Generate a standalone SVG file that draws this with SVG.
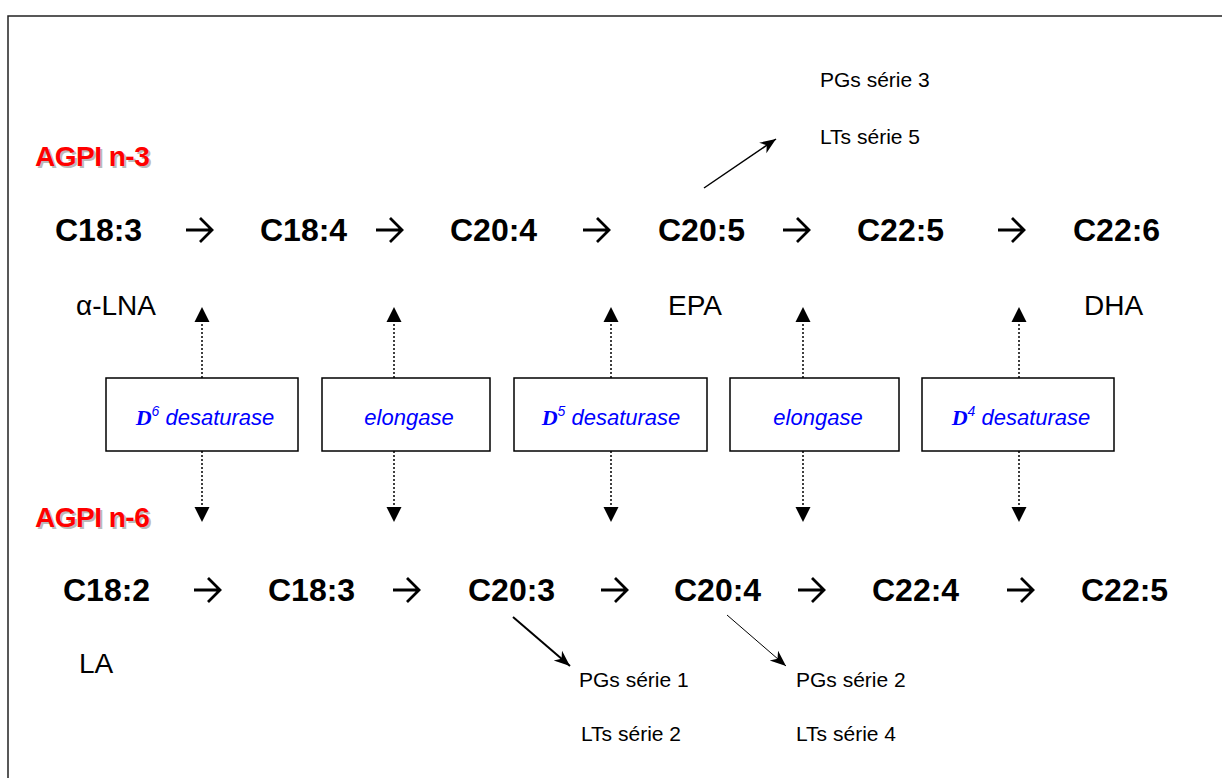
<svg xmlns="http://www.w3.org/2000/svg" width="1222" height="778" viewBox="0 0 1222 778">
<style>
.fa{font-family:"Liberation Sans",Arial,sans-serif;font-weight:bold;font-size:32px;fill:#000}
.lb{font-family:"Liberation Sans",Arial,sans-serif;font-size:28px;fill:#000}
.sm{font-family:"Liberation Sans",Arial,sans-serif;font-size:21px;fill:#000}
.hd{font-family:"Liberation Sans",Arial,sans-serif;font-weight:bold;font-size:28px;letter-spacing:-0.5px}
.box{fill:#fff;stroke:#000;stroke-width:1.5}
.en{font-family:"Liberation Sans",Arial,sans-serif;font-style:italic;font-size:22px;fill:#0000ff;text-anchor:middle}
.dl{font-family:"Liberation Serif","Times New Roman",serif;font-style:italic;font-weight:bold}
.sup{font-family:"Liberation Sans",Arial,sans-serif;font-size:14px}
.dot{stroke:#000;stroke-width:1.5;stroke-dasharray:2 2;fill:none}
.ln{stroke:#000;fill:none}
.rx{stroke:#000;stroke-width:2.8;fill:none;stroke-linejoin:miter}
</style>
<defs>
<marker id="head" viewBox="0 0 10 10" refX="10" refY="5" markerWidth="16" markerHeight="16" markerUnits="userSpaceOnUse" orient="auto">
<path d="M0,1 L10,5 L0,9 L3,5 z" fill="#000"/>
</marker>
<path id="rarrow" class="rx" d="M0,0 H26 M14,-12 L26,0 L14,12"/>
<path id="upar" d="M-7.5,15 L0,0 L7.5,15 z" fill="#000"/>
<path id="dnar" d="M-7.5,0 L0,15 L7.5,0 z" fill="#000"/>
</defs>
<rect x="0" y="0" width="1222" height="778" fill="#fff"/>
<rect x="8" y="16" width="1240" height="800" fill="none" stroke="#222" stroke-width="1.5"/>

<g id="heading-n3">
<text class="hd" x="37" y="168" fill="#bbb">AGPI n-3</text>
<text class="hd" x="35" y="166" fill="#ff0000">AGPI n-3</text>
</g>
<g id="heading-n6">
<text class="hd" x="37" y="529" fill="#bbb">AGPI n-6</text>
<text class="hd" x="35" y="527" fill="#ff0000">AGPI n-6</text>
</g>

<g id="row-n3">
<g id="n3-c183"><text class="fa" x="55" y="241">C18:3</text><text class="lb" x="76" y="315" font-size="30">α-LNA</text></g>
<g id="n3-c184"><text class="fa" x="260" y="241">C18:4</text></g>
<g id="n3-c204"><text class="fa" x="450" y="241">C20:4</text></g>
<g id="n3-c205"><text class="fa" x="658" y="241">C20:5</text><text class="lb" x="668" y="315">EPA</text></g>
<g id="n3-c225"><text class="fa" x="857" y="241">C22:5</text></g>
<g id="n3-c226"><text class="fa" x="1073" y="241">C22:6</text><text class="lb" x="1084" y="315">DHA</text></g>
<use href="#rarrow" x="186" y="230"/>
<use href="#rarrow" x="376" y="230"/>
<use href="#rarrow" x="583" y="230"/>
<use href="#rarrow" x="783" y="230"/>
<use href="#rarrow" x="998" y="230"/>
</g>

<g id="n3-products">
<text class="sm" x="820" y="87">PGs série 3</text>
<text class="sm" x="820" y="144">LTs série 5</text>
</g>

<g id="row-n6">
<g id="n6-c182"><text class="fa" x="63" y="601">C18:2</text><text class="lb" x="79" y="673">LA</text></g>
<g id="n6-c183"><text class="fa" x="268" y="601">C18:3</text></g>
<g id="n6-c203"><text class="fa" x="468" y="601">C20:3</text></g>
<g id="n6-c204"><text class="fa" x="674" y="601">C20:4</text></g>
<g id="n6-c224"><text class="fa" x="872" y="601">C22:4</text></g>
<g id="n6-c225"><text class="fa" x="1081" y="601">C22:5</text></g>
<use href="#rarrow" x="194" y="590"/>
<use href="#rarrow" x="393" y="590"/>
<use href="#rarrow" x="601" y="590"/>
<use href="#rarrow" x="798" y="590"/>
<use href="#rarrow" x="1007" y="590"/>
</g>

<g id="n6-products">
<text class="sm" x="579" y="687">PGs série 1</text>
<text class="sm" x="581" y="741">LTs série 2</text>
<text class="sm" x="796" y="687">PGs série 2</text>
<text class="sm" x="796" y="741">LTs série 4</text>
</g>

<g id="enzyme-d6"><rect class="box" x="106" y="378" width="192" height="73"/><text class="en" x="205" y="425"><tspan class="dl">D</tspan><tspan class="sup" dy="-9">6</tspan><tspan dy="9"> desaturase</tspan></text></g>
<g id="enzyme-elong1"><rect class="box" x="322" y="378" width="168" height="73"/><text class="en" x="409" y="425">elongase</text></g>
<g id="enzyme-d5"><rect class="box" x="514" y="378" width="193" height="73"/><text class="en" x="611" y="425"><tspan class="dl">D</tspan><tspan class="sup" dy="-9">5</tspan><tspan dy="9"> desaturase</tspan></text></g>
<g id="enzyme-elong2"><rect class="box" x="730" y="378" width="169" height="73"/><text class="en" x="818" y="425">elongase</text></g>
<g id="enzyme-d4"><rect class="box" x="922" y="378" width="192" height="73"/><text class="en" x="1021" y="425"><tspan class="dl">D</tspan><tspan class="sup" dy="-9">4</tspan><tspan dy="9"> desaturase</tspan></text></g>

<g id="connectors">
<path class="dot" d="M202,378 V322"/><use href="#upar" x="202" y="307"/>
<path class="dot" d="M202,451 V507"/><use href="#dnar" x="202" y="507"/>
<path class="dot" d="M394,378 V322"/><use href="#upar" x="394" y="307"/>
<path class="dot" d="M394,451 V507"/><use href="#dnar" x="394" y="507"/>
<path class="dot" d="M611,378 V322"/><use href="#upar" x="611" y="307"/>
<path class="dot" d="M611,451 V507"/><use href="#dnar" x="611" y="507"/>
<path class="dot" d="M803,378 V322"/><use href="#upar" x="803" y="307"/>
<path class="dot" d="M803,451 V507"/><use href="#dnar" x="803" y="507"/>
<path class="dot" d="M1019,378 V322"/><use href="#upar" x="1019" y="307"/>
<path class="dot" d="M1019,451 V507"/><use href="#dnar" x="1019" y="507"/>
<line class="ln" x1="704" y1="188" x2="776" y2="139" stroke-width="1.5" marker-end="url(#head)"/>
<line class="ln" x1="513" y1="617" x2="570" y2="666" stroke-width="2" marker-end="url(#head)"/>
<line class="ln" x1="727" y1="615" x2="786" y2="666" stroke-width="1" marker-end="url(#head)"/>
</g>
</svg>
